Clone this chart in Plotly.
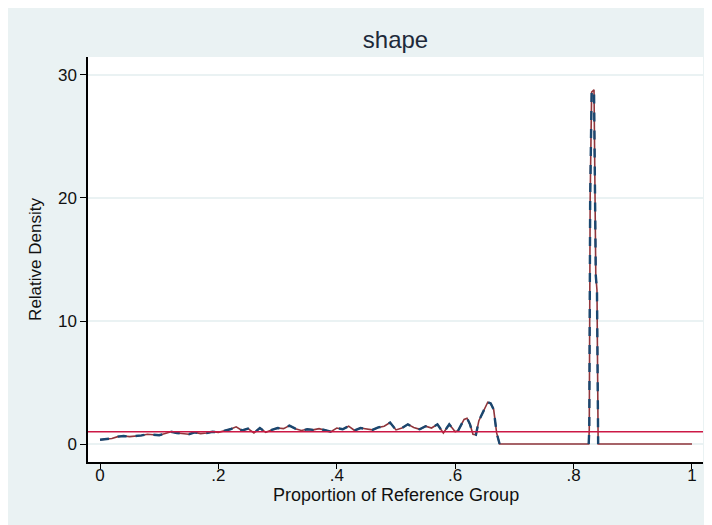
import plotly.graph_objects as go

# Relative density estimate
prop_x = [0.00, 0.01, 0.02, 0.03, 0.04, 0.05, 0.06, 0.07, 0.08, 0.09,
          0.10, 0.11, 0.12, 0.13, 0.14, 0.15, 0.16, 0.17, 0.18, 0.19,
          0.20, 0.21, 0.22, 0.23, 0.24, 0.25, 0.26, 0.27, 0.28, 0.29,
          0.30, 0.31, 0.32, 0.33, 0.34, 0.35, 0.36, 0.37, 0.38, 0.39,
          0.40, 0.41, 0.42, 0.43, 0.44, 0.45, 0.46, 0.47, 0.48, 0.49,
          0.50, 0.51, 0.52, 0.53, 0.54, 0.55, 0.56, 0.57, 0.58, 0.59,
          0.60, 0.605, 0.61, 0.615, 0.62, 0.625, 0.63, 0.635, 0.64, 0.645,
          0.65, 0.655, 0.66, 0.665, 0.67, 0.675,
          0.8255, 0.8265, 0.828, 0.8305, 0.8345, 0.836, 0.8375, 0.8395, 0.8405, 0.8415,
          1.00]
rel_density = [0.35, 0.40, 0.45, 0.60, 0.65, 0.60, 0.62, 0.70, 0.80, 0.75,
               0.72, 0.85, 1.00, 0.90, 0.85, 0.80, 0.95, 0.85, 0.90, 1.00,
               0.95, 1.05, 1.20, 1.40, 1.10, 1.25, 0.90, 1.30, 0.95, 1.15,
               1.30, 1.25, 1.50, 1.25, 1.10, 1.20, 1.15, 1.25, 1.10, 1.00,
               1.30, 1.20, 1.45, 1.10, 1.30, 1.25, 1.15, 1.35, 1.45, 1.75,
               1.15, 1.30, 1.60, 1.35, 1.20, 1.45, 1.30, 1.60, 0.90, 1.60,
               1.00, 1.10, 1.60, 2.00, 2.10, 1.60, 0.80, 0.75, 1.90, 2.40,
               3.00, 3.40, 3.30, 2.80, 0.90, 0.00,
               0.00, 1.20, 20.0, 28.6, 28.8, 20.0, 13.7, 12.5, 3.00, 0.00,
               0.00]
ref_level = 1.0

x_ticks = [0, 0.2, 0.4, 0.6, 0.8, 1.0]
x_tick_text = ["0", ".2", ".4", ".6", ".8", "1"]
y_ticks = [0, 10, 20, 30]

title_text = "shape"
x_title = "Proportion of Reference Group"
y_title = "Relative Density"

BG = "#eaf2f3"
FONT = "Liberation Sans Narrow, Liberation Sans, Arial, sans-serif"

# raw (dashed navy) series: only the positive stretches, gaps elsewhere
raw_x, raw_y = [], []
n = len(rel_density)
for i in range(n):
    v = rel_density[i]
    near_pos = v > 0 or (i > 0 and rel_density[i - 1] > 0) or (i + 1 < n and rel_density[i + 1] > 0)
    if near_pos:
        raw_x.append(prop_x[i])
        raw_y.append(v)
    elif raw_y and raw_y[-1] is not None:
        raw_x.append(prop_x[i])
        raw_y.append(None)
    if v == 0 and i > 0 and rel_density[i - 1] > 0:
        raw_x.append(prop_x[i])
        raw_y.append(None)

fig = go.Figure()
fig.add_trace(go.Scatter(x=prop_x, y=rel_density, mode="lines",
                         line=dict(color="#90353b", width=1.6), showlegend=False))
fig.add_trace(go.Scatter(x=raw_x, y=raw_y, mode="lines", connectgaps=False,
                         line=dict(color="#1a476f", width=2.4, dash="dash"), showlegend=False))
fig.add_trace(go.Scatter(x=[-0.05, 1.05], y=[ref_level, ref_level], mode="lines",
                         line=dict(color="#cc1845", width=1.6), showlegend=False))

fig.update_layout(
    width=704, height=517,
    margin=dict(l=80, r=9, t=49, b=63),
    paper_bgcolor=BG,
    plot_bgcolor="white",
    font=dict(family=FONT, size=17, color="#111111"),
    title=dict(text=title_text, x=0.5, xref="paper", xanchor="center",
               y=1 - 32 / 517, yref="container", yanchor="middle",
               font=dict(size=24, color="#1e2a3a", family=FONT)),
    xaxis=dict(range=[-0.0203, 1.0186], tickvals=x_ticks, ticktext=x_tick_text,
               showgrid=False, zeroline=False, showline=True, linecolor="#000000",
               linewidth=1.5, ticks="outside", ticklen=5, tickcolor="#000000",
               ticklabelstandoff=-8, tickfont=dict(size=17)),
    yaxis=dict(range=[-1.46, 31.46], tickvals=y_ticks,
               showgrid=True, gridcolor=BG, gridwidth=1.5, zeroline=False,
               showline=True, linecolor="#000000", linewidth=1.5,
               ticks="outside", ticklen=6, tickcolor="#000000",
               tickfont=dict(size=17), title=dict(text=y_title, font=dict(size=17), standoff=12)),
    annotations=[dict(text=x_title, xref="paper", yref="paper", x=0.5, y=-(487 - 454) / 405,
                      xanchor="center", yanchor="middle", showarrow=False,
                      font=dict(size=18, color="#111111", family=FONT))],
)

fig.write_html("out.html")
